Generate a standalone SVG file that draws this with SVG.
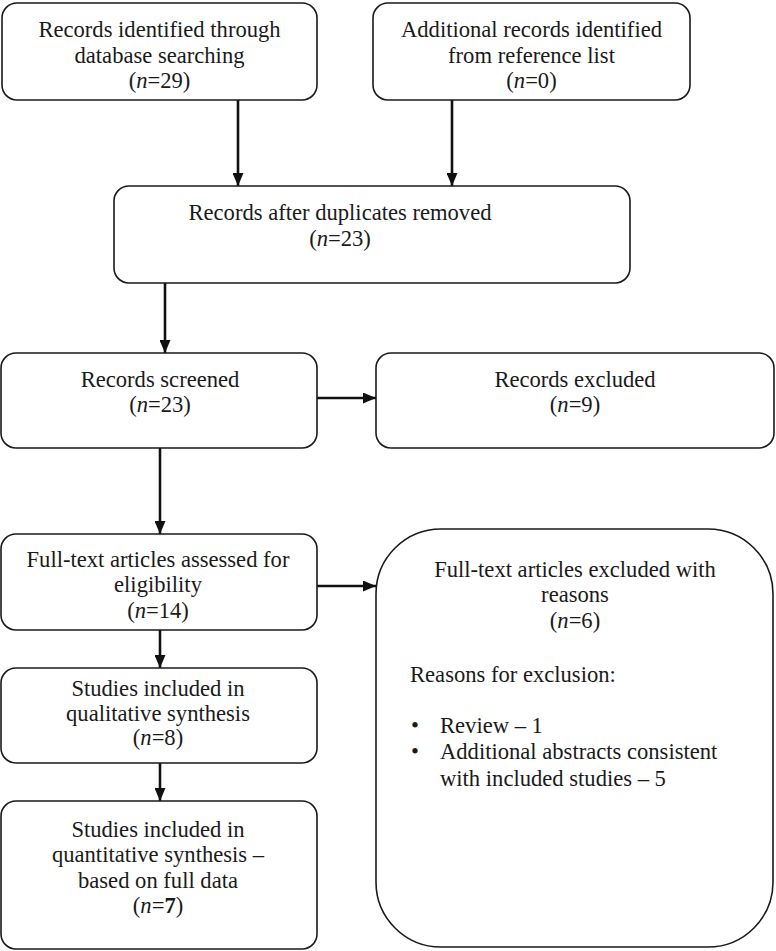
<svg xmlns="http://www.w3.org/2000/svg" width="776" height="951" viewBox="0 0 776 951">
<style>
.box{fill:#fff;stroke:#1a1a1a;stroke-width:1.6}
.t{font-family:"Liberation Serif","Times New Roman",serif;font-size:22.6px;fill:#1a1a1a;text-anchor:middle}
.l{text-anchor:start}
.c{stroke:#111;stroke-width:2.6;fill:none}
</style>
<defs>
<marker id="ah" markerUnits="userSpaceOnUse" viewBox="0 0 13 11" markerWidth="13" markerHeight="11" refX="13" refY="5.5" orient="auto">
<path d="M0,0 L13,5.5 L0,11 z" fill="#111"/>
</marker>
</defs>
<rect width="776" height="951" fill="#fff"/>
<g id="connectors">
<line class="c" x1="238" y1="100" x2="238" y2="186" marker-end="url(#ah)"/>
<line class="c" x1="452" y1="100" x2="452" y2="186" marker-end="url(#ah)"/>
<line class="c" x1="165" y1="283" x2="165" y2="353" marker-end="url(#ah)"/>
<line class="c" x1="317" y1="398" x2="376" y2="398" marker-end="url(#ah)"/>
<line class="c" x1="160" y1="448" x2="160" y2="534" marker-end="url(#ah)"/>
<line class="c" x1="317" y1="586" x2="376" y2="586" marker-end="url(#ah)"/>
<line class="c" x1="160" y1="630" x2="160" y2="668" marker-end="url(#ah)"/>
<line class="c" x1="160" y1="763" x2="160" y2="801" marker-end="url(#ah)"/>
</g>
<g id="n1">
<rect class="box" x="2" y="3" width="315" height="97" rx="15"/>
<text class="t" x="159.5" y="37">Records identified through</text>
<text class="t" x="159.5" y="63">database searching</text>
<text class="t" x="159.5" y="88">(<tspan font-style="italic">n</tspan>=29)</text>
</g>
<g id="n2">
<rect class="box" x="373" y="3" width="317" height="97" rx="15"/>
<text class="t" x="531.5" y="37">Additional records identified</text>
<text class="t" x="531.5" y="63">from reference list</text>
<text class="t" x="531.5" y="88">(<tspan font-style="italic">n</tspan>=0)</text>
</g>
<g id="n3">
<rect class="box" x="114" y="186" width="516" height="97" rx="15"/>
<text class="t" x="340" y="220">Records after duplicates removed</text>
<text class="t" x="340" y="246">(<tspan font-style="italic">n</tspan>=23)</text>
</g>
<g id="n4">
<rect class="box" x="1" y="353" width="316" height="95" rx="15"/>
<text class="t" x="160" y="387">Records screened</text>
<text class="t" x="160" y="412">(<tspan font-style="italic">n</tspan>=23)</text>
</g>
<g id="n5">
<rect class="box" x="376" y="353" width="398" height="95" rx="15"/>
<text class="t" x="575" y="387">Records excluded</text>
<text class="t" x="575" y="412">(<tspan font-style="italic">n</tspan>=9)</text>
</g>
<g id="n6">
<rect class="box" x="1" y="534" width="316" height="96" rx="15"/>
<text class="t" x="158" y="567">Full-text articles assessed for</text>
<text class="t" x="158" y="592">eligibility</text>
<text class="t" x="158" y="618">(<tspan font-style="italic">n</tspan>=14)</text>
</g>
<g id="n7">
<rect class="box" x="376" y="529" width="397" height="418" rx="65"/>
<text class="t" x="575" y="577">Full-text articles excluded with</text>
<text class="t" x="575" y="602">reasons</text>
<text class="t" x="575" y="628">(<tspan font-style="italic">n</tspan>=6)</text>
<text class="t l" x="410" y="682">Reasons for exclusion:</text>
<text class="t l" x="411" y="733">•</text>
<text class="t l" x="411" y="759">•</text>
<text class="t l" x="440" y="733">Review – 1</text>
<text class="t l" x="440" y="759">Additional abstracts consistent</text>
<text class="t l" x="440" y="786">with included studies – 5</text>
</g>
<g id="n8">
<rect class="box" x="1" y="668" width="316" height="95" rx="15"/>
<text class="t" x="158" y="696">Studies included in</text>
<text class="t" x="158" y="721">qualitative synthesis</text>
<text class="t" x="158" y="745">(<tspan font-style="italic">n</tspan>=8)</text>
</g>
<g id="n9">
<rect class="box" x="1" y="801" width="316" height="148" rx="15"/>
<text class="t" x="158" y="837">Studies included in</text>
<text class="t" x="158" y="862">quantitative synthesis –</text>
<text class="t" x="158" y="888">based on full data</text>
<text class="t" x="158" y="913">(<tspan font-style="italic">n</tspan>=<tspan font-weight="bold">7</tspan>)</text>
</g>
</svg>
